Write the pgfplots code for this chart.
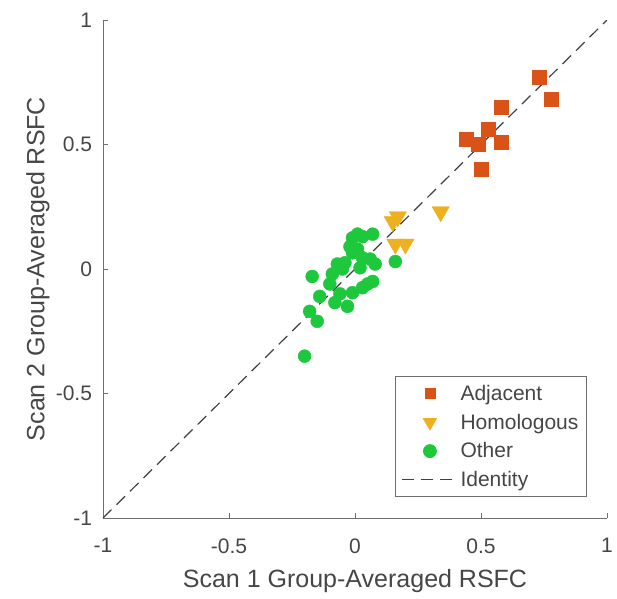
\documentclass[border=0pt]{standalone}
\usepackage{pgfplots}
\pgfplotsset{compat=1.18}
\usepackage{fontspec}
\setmainfont{Liberation Sans}
\definecolor{adjc}{HTML}{D95319}
\definecolor{homc}{HTML}{EDB120}
\definecolor{othc}{RGB}{30,200,60}
\definecolor{axc}{RGB}{110,110,110}
\definecolor{txc}{RGB}{70,70,70}
\begin{document}
\begin{tikzpicture}
\begin{axis}[
  scale only axis, width=504pt, height=498pt,
  xmin=-1, xmax=1, ymin=-1, ymax=1,
  axis x line*=bottom, axis y line*=left,
  axis line style={axc, line width=0.9pt},
  xtick={-1,-0.5,0,0.5,1}, ytick={-1,-0.5,0,0.5,1},
  tick align=inside, major tick length=5pt,
  tick style={axc, line width=0.8pt},
  /pgf/number format/assume math mode=true,
  ticklabel style={font=\fontsize{21}{25}\selectfont, text=txc},
  xticklabel style={yshift=-17pt},
  yticklabel style={xshift=-7.5pt},
  xlabel={Scan 1 Group-Averaged RSFC},
  ylabel={Scan 2 Group-Averaged RSFC},
  label style={font=\fontsize{25}{29}\selectfont, text=txc},
  xlabel style={at={([yshift=-63pt]rel axis cs:0.5,0)}, anchor=center},
  ylabel style={at={([xshift=-65pt]rel axis cs:0,0.5)}, anchor=center},
  legend style={at={(0.96,0.042)}, anchor=south east, draw=axc,
    line width=0.8pt, font=\fontsize{21}{24}\selectfont, text=txc,
    row sep=9pt, inner xsep=6pt, inner ysep=7pt,
    nodes={inner xsep=2pt, inner ysep=1.5pt}},
  legend cell align=left,
]
\addplot[only marks, mark=square*, mark size=7pt, mark options={draw=adjc, fill=adjc},
  legend image code/.code={\path[draw=none] (0,0) -- (56pt,0);
    \draw[only marks, mark=square*, mark size=5pt, mark options={draw=adjc, fill=adjc}] plot coordinates {(28pt,0pt)};}]
  coordinates {(0.73,0.77)(0.78,0.68)(0.58,0.65)(0.53,0.56)(0.44,0.52)(0.49,0.50)(0.58,0.51)(0.50,0.40)};
\addlegendentry{Adjacent}
\addplot[only marks, mark=triangle*, mark size=10pt, mark options={rotate=180, draw=homc, fill=homc},
  legend image code/.code={\path[draw=none] (0,0) -- (56pt,0);
    \draw[only marks, mark=triangle*, mark size=7.5pt, mark options={rotate=180, draw=homc, fill=homc}] plot coordinates {(28pt,0pt)};}]
  coordinates {(0.15,0.19)(0.17,0.21)(0.34,0.23)(0.16,0.10)(0.20,0.10)};
\addlegendentry{Homologous}
\addplot[only marks, mark=*, mark size=6.5pt, mark options={draw=othc, fill=othc},
  legend image code/.code={\path[draw=none] (0,0) -- (56pt,0);
    \draw[only marks, mark=*, mark size=6.5pt, mark options={draw=othc, fill=othc}] plot coordinates {(28pt,0pt)};}]
  coordinates {(0.07,0.14)(0.03,0.13)(-0.01,0.125)(0.01,0.14)(-0.02,0.09)(-0.01,0.065)
  (0.03,0.045)(0.01,0.08)(-0.07,0.02)(-0.04,0.025)(0.08,0.02)(0.06,0.04)(0.16,0.03)
  (-0.17,-0.03)(-0.09,-0.02)(-0.10,-0.06)(0.07,-0.05)(0.03,-0.075)(-0.01,-0.095)
  (-0.14,-0.11)(-0.08,-0.135)(-0.03,-0.15)(-0.06,-0.10)(-0.18,-0.17)(-0.15,-0.21)
  (-0.05,0.0)(0.02,0.005)(0.05,-0.06)(-0.20,-0.35)};
\addlegendentry{Other}
\addplot[color=black!75, line width=1.2pt, dash pattern=on 12pt off 7pt,
  legend image code/.code={\draw[black!75, line width=1.2pt, dash pattern=on 12pt off 7pt] (0pt,0pt) -- (56pt,0pt);}]
  coordinates {(-1,-1)(1,1)};
\addlegendentry{Identity}
\end{axis}
% fix the page to the reference's margins round the axis
\pgfresetboundingbox
\path (current axis.south west) ++(-103pt,-80pt) rectangle ++(617pt,598pt);
\end{tikzpicture}
\end{document}
